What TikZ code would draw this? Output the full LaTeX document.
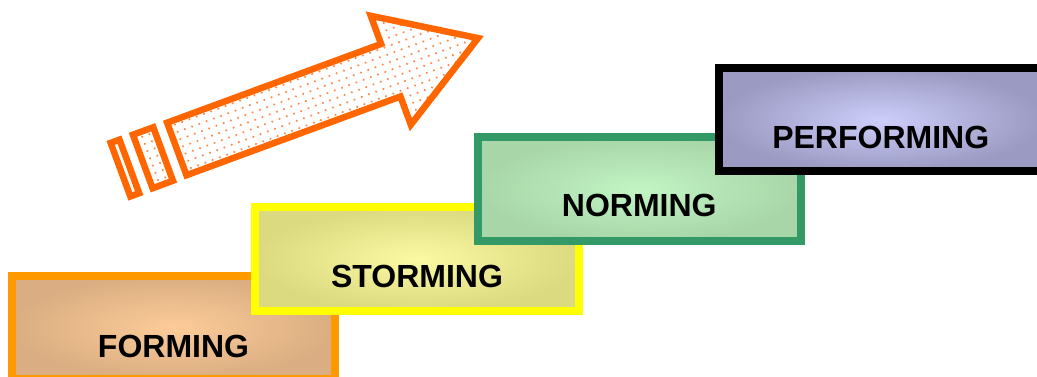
\documentclass[tikz,border=0pt]{standalone}
\usepackage{fontspec}
\setmainfont{Liberation Sans}
\definecolor{arrowor}{HTML}{FF6600}
\definecolor{dotor}{HTML}{FF8A4D}
\definecolor{formline}{HTML}{FF9900}
\definecolor{formin}{HTML}{FCCB98}
\definecolor{formout}{HTML}{DAAE82}
\definecolor{stormline}{HTML}{FFFF00}
\definecolor{stormin}{HTML}{FBF9A2}
\definecolor{stormout}{HTML}{DCDA80}
\definecolor{normline}{HTML}{339966}
\definecolor{normin}{HTML}{C2F4C4}
\definecolor{normout}{HTML}{A8D6A8}
\definecolor{perfline}{HTML}{000000}
\definecolor{perfin}{HTML}{CDCEFA}
\definecolor{perfout}{HTML}{9A9AC2}
\newcommand\mydotgrid[2]{%
  \foreach \u in {#1} {\foreach \v in {-62,-54.3,...,62} {\fill[dotor] (\u,\v) circle (1.2pt);}}}
\tikzset{
  stagebox/.style={shade, line width=8pt, minimum width=323.5pt, minimum height=103.5pt, inner sep=0pt},
  stagelbl/.style={anchor=base, inner sep=0pt, font=\fontsize{32}{38}\selectfont\bfseries},
  arrowpart/.style={draw=arrowor, line width=6.5pt, line join=miter}
}
\begin{document}
\begin{tikzpicture}[x=1pt,y=-1pt]
\useasboundingbox (0,0) rectangle (1037,377);
\clip (0,0) rectangle (1037,377);
% arrow
\begin{scope}[shift={(174,150)}, rotate=20.2]
  \begin{scope}
    \clip (-57,-28.5) rectangle (-47.6,28.5);
    \mydotgrid{-56,-48.3}{}
  \end{scope}
  \begin{scope}
    \clip (-33.3,-28.5) rectangle (-11.6,28.5);
    \mydotgrid{-33,-25.3,-17.6,-9.9}{}
  \end{scope}
  \begin{scope}
    \clip (3,-28) -- (231,-28) -- (231,-58) -- (324,0) -- (231,58) -- (231,28) -- (3,28) -- cycle;
    \mydotgrid{2,9.7,...,330}{}
  \end{scope}
  \draw[arrowpart] (-57,-28.5) rectangle (-47.6,28.5);
  \draw[arrowpart] (-33.3,-28.5) rectangle (-11.6,28.5);
  \draw[arrowpart] (3,-28) -- (231,-28) -- (231,-58) -- (324,0) -- (231,58) -- (231,28) -- (3,28) -- cycle;
\end{scope}
% stages
\node[stagebox, draw=formline, inner color=formin, outer color=formout] (formbox) at (173.5,327.5) {};
\node[stagelbl] (formtxt) at (173.5,357) {FORMING};
\node[stagebox, draw=stormline, inner color=stormin, outer color=stormout] (stormbox) at (417,258.75) {};
\node[stagelbl] (stormtxt) at (417,287) {STORMING};
\node[stagebox, draw=normline, inner color=normin, outer color=normout] (normbox) at (639.25,189.25) {};
\node[stagelbl] (normtxt) at (639.25,217) {NORMING};
\node[stagebox, draw=perfline, inner color=perfin, outer color=perfout] (perfbox) at (880.75,119.75) {};
\node[stagelbl] (perftxt) at (880.75,148.5) {PERFORMING};
\end{tikzpicture}
\end{document}
